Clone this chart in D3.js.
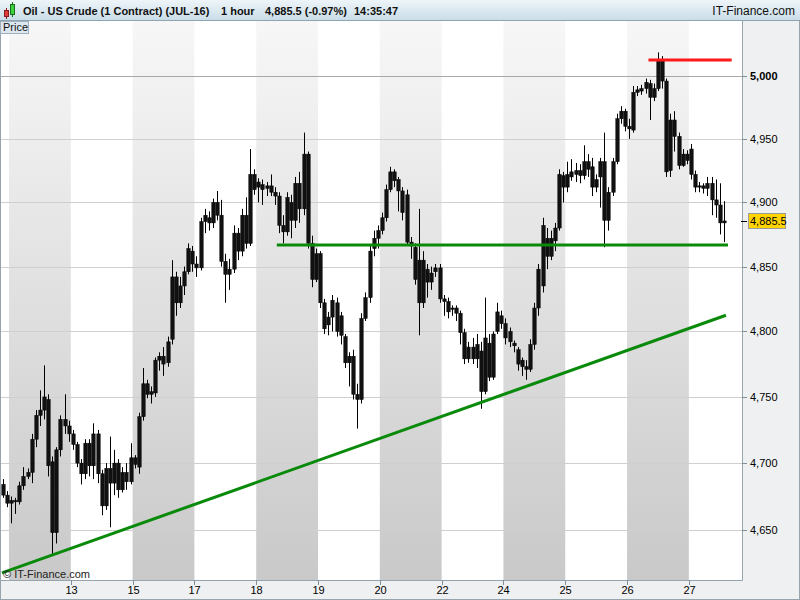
<!DOCTYPE html>
<html><head><meta charset="utf-8">
<script src="https://cdn.jsdelivr.net/npm/d3@7"></script>
<style>
body{margin:0;background:#fff;}
svg{display:block;font-family:"Liberation Sans",Arial,sans-serif;}
</style>
</head><body>
<svg id="chart" width="800" height="600"></svg>
<script>
// ---- DATA (hourly-ish candles) ----
const opens = [4684,4676,4670,4672,4671,4683,4690,4693,4718,4736,4740,4748,4701,4648,4710,4733,4728,4722,4714,4700,
4692,4715,4698,4722,4692,4668,4696,4685,4700,4680,4693,4686,4704,4697,4735,4760,4752,4753,4778,4781,
4776,4794,4842,4822,4835,4846,4862,4852,4849,4885,4888,4884,4900,4890,4854,4844,4848,4876,4862,4890,
4868,4922,4912,4914,4911,4913,4908,4905,4882,4877,4900,4886,4915,4895,4938,4868,4840,4860,4822,4805,
4811,4822,4812,4796,4776,4781,4752,4748,4810,4826,4864,4872,4878,4888,4910,4924,4918,4909,4906,4869,
4865,4855,4822,4848,4838,4846,4849,4825,4823,4817,4818,4814,4799,4779,4788,4779,4785,4754,4791,4765,
4800,4812,4806,4800,4791,4786,4778,4773,4771,4790,4818,4835,4872,4858,4870,4880,4921,4912,4920,4922,
4925,4921,4932,4928,4912,4920,4932,4886,4908,4932,4966,4972,4960,4957,4987,4988,4990,4994,4983,4990,
5013,4996,4925,4965,4952,4929,4938,4942,4922,4912,4913,4911,4915,4902,4898,4884];
const highs = [4688,4679,4675,4674,4686,4697,4696,4722,4740,4755,4774,4752,4705,4712,4736,4752,4732,4725,4716,4703,
4718,4718,4730,4725,4695,4700,4720,4710,4703,4697,4700,4715,4706,4738,4772,4763,4758,4780,4784,4788,
4796,4855,4846,4842,4850,4868,4866,4858,4888,4895,4893,4903,4909,4902,4860,4856,4882,4880,4895,4904,
4942,4926,4919,4918,4916,4922,4912,4908,4890,4908,4906,4920,4924,4955,4940,4874,4864,4862,4825,4815,
4828,4826,4815,4798,4784,4786,4760,4814,4830,4866,4878,4882,4892,4914,4928,4926,4920,4912,4910,4873,
4868,4895,4862,4852,4850,4852,4852,4828,4826,4820,4820,4816,4802,4792,4795,4798,4792,4826,4798,4800,
4822,4816,4810,4803,4793,4788,4780,4778,4794,4822,4852,4888,4880,4878,4884,4926,4924,4932,4934,4931,
4930,4945,4938,4935,4922,4935,4955,4912,4935,4970,4976,4974,4966,4992,4992,4993,4998,4997,4994,5019,
5016,4998,4970,4972,4955,4942,4941,4946,4925,4916,4915,4920,4920,4918,4915,4901];
const lows = [4674,4667,4655,4662,4669,4680,4688,4685,4712,4728,4733,4690,4632,4640,4705,4722,4716,4710,4697,4684,
4688,4690,4688,4685,4661,4665,4652,4676,4674,4678,4680,4684,4696,4692,4732,4749,4745,4750,4770,4766,
4773,4790,4812,4818,4828,4844,4846,4842,4847,4876,4878,4880,4886,4850,4822,4832,4845,4855,4858,4864,
4866,4906,4900,4898,4905,4905,4898,4876,4868,4874,4872,4880,4884,4890,4864,4834,4838,4818,4798,4797,
4800,4796,4790,4772,4758,4748,4726,4745,4808,4822,4858,4864,4875,4885,4908,4912,4893,4886,4866,4856,
4836,4797,4818,4826,4832,4842,4822,4812,4810,4812,4808,4790,4775,4776,4775,4772,4741,4752,4762,4763,
4798,4802,4790,4788,4784,4770,4766,4763,4769,4786,4812,4830,4848,4855,4862,4878,4900,4908,4917,4916,
4915,4918,4920,4905,4908,4896,4865,4878,4905,4930,4962,4956,4950,4955,4984,4985,4986,4965,4980,4988,
4990,4920,4920,4940,4926,4928,4930,4918,4908,4908,4907,4905,4890,4888,4875,4869];
const closes = [4676,4670,4672,4671,4683,4690,4693,4718,4736,4740,4750,4698,4648,4710,4733,4728,4722,4714,4700,4692,
4715,4698,4722,4692,4668,4696,4685,4700,4680,4693,4686,4704,4699,4735,4760,4752,4754,4778,4781,4775,
4792,4842,4822,4835,4846,4864,4852,4849,4885,4890,4884,4900,4890,4854,4844,4848,4876,4862,4890,4868,
4922,4910,4916,4910,4913,4908,4905,4882,4877,4904,4886,4915,4895,4938,4868,4840,4860,4822,4802,4811,
4824,4800,4797,4776,4781,4752,4748,4810,4826,4862,4872,4878,4888,4910,4924,4917,4909,4892,4869,4866,
4840,4822,4855,4838,4845,4849,4825,4823,4815,4818,4814,4799,4779,4788,4779,4790,4754,4795,4765,4798,
4815,4806,4795,4792,4789,4775,4773,4771,4790,4818,4848,4882,4858,4872,4880,4922,4912,4922,4924,4925,
4921,4932,4926,4912,4918,4932,4886,4908,4932,4966,4972,4960,4958,4987,4989,4990,4995,4983,4990,5013,
4996,4924,4965,4952,4929,4938,4933,4922,4912,4913,4911,4915,4902,4898,4884,4885.5];

const yTicks = [4650,4700,4750,4800,4850,4900,4950,5000];
const xTickLabels = ["13","15","17","18","19","20","22","24","25","26","27"];
const xTickIndex = [16.5,31.5,46.5,61.5,76.5,91.5,106.5,121.5,136.5,151.5,166.5];
const shadedDays = [[1.5,16.5],[31.5,46.5],[61.5,76.5],[91.5,106.5],[121.5,136.5],[151.5,166.5]];
// trend lines: [index, price] pairs
const risingTrend = [[-0.2,4618.2],[175.5,4812.4]];
const supportLine = [[66.5,4866.7],[176.0,4866.7]];
const resistanceLine = [[156.7,5012.8],[176.9,5012.8]];
const lastPrice = 4885.5;
const titleParts = [
  {t:"Oil - US Crude (1 Contract) (JUL-16)", x:23},
  {t:"1 hour", x:221},
  {t:"4,885.5 (-0.97%)", x:265},
  {t:"14:35:47", x:354}
];

// ---- LAYOUT ----
const svg = d3.select("#chart");
const L=1, R=742, T=20, B=580;
const x = d3.scaleLinear().domain([-0.68,179.4]).range([0,742]);
const y = d3.scaleLog().domain([4613.0,5045.0]).range([B,T]);
const fmt = d3.format(",");

const defs = svg.append("defs");
const g1 = defs.append("linearGradient").attr("id","band").attr("gradientUnits","userSpaceOnUse")
  .attr("x1",0).attr("y1",T).attr("x2",0).attr("y2",B);
g1.append("stop").attr("offset",0).attr("stop-color","#f7f7f7");
g1.append("stop").attr("offset",1).attr("stop-color","#c9c9c9");
const g2 = defs.append("linearGradient").attr("id","hdr").attr("x1",0).attr("y1",0).attr("x2",0).attr("y2",1);
g2.append("stop").attr("offset",0).attr("stop-color","#eef5f9");
g2.append("stop").attr("offset",1).attr("stop-color","#cadde8");
defs.append("clipPath").attr("id","plotclip").append("rect").attr("x",L).attr("y",T).attr("width",R-L).attr("height",B-T);

// background
svg.append("rect").attr("x",0).attr("y",0).attr("width",800).attr("height",600).attr("fill","#eff0f2");
svg.append("rect").attr("x",L).attr("y",T).attr("width",R-L).attr("height",B-T).attr("fill","#ffffff");

const plot = svg.append("g").attr("clip-path","url(#plotclip)");
plot.selectAll("rect.band").data(shadedDays).enter().append("rect")
  .attr("x",d=>x(d[0])).attr("y",T).attr("width",d=>x(d[1])-x(d[0])).attr("height",B-T)
  .attr("fill","url(#band)");

plot.selectAll("line.grid").data(yTicks).enter().append("line")
  .attr("x1",L).attr("x2",R).attr("y1",d=>Math.round(y(d))+0.5).attr("y2",d=>Math.round(y(d))+0.5)
  .attr("stroke",d=>d===5000?"#a9a9a9":"#cfcfcf").attr("stroke-width",1);

// candles
const idx = d3.range(closes.length);
const bw = 3.4;
plot.selectAll("line.wick").data(idx).enter().append("line")
  .attr("x1",i=>Math.round(x(i))+0.5).attr("x2",i=>Math.round(x(i))+0.5)
  .attr("y1",i=>y(highs[i])).attr("y2",i=>y(lows[i]))
  .attr("stroke","#000").attr("stroke-width",1);
plot.selectAll("rect.body").data(idx).enter().append("rect")
  .attr("x",i=>Math.round(x(i))+0.5-bw/2)
  .attr("y",i=>y(Math.max(opens[i],closes[i])))
  .attr("width",bw)
  .attr("height",i=>Math.max(1,Math.abs(y(opens[i])-y(closes[i]))))
  .attr("fill","#111").attr("stroke","#000").attr("stroke-width",0.5);

// trend lines
const lineGen = d3.line().x(d=>x(d[0])).y(d=>y(d[1]));
plot.append("path").attr("d",lineGen(risingTrend)).attr("stroke","#0a8a0a").attr("stroke-width",3).attr("fill","none");
plot.append("path").attr("d",lineGen(supportLine)).attr("stroke","#0a8a0a").attr("stroke-width",3).attr("fill","none");
plot.append("path").attr("d",lineGen(resistanceLine)).attr("stroke","#ff1a1a").attr("stroke-width",3).attr("fill","none");

// watermark
svg.append("text").attr("x",3).attr("y",578).attr("font-size",11).attr("fill","#222").text("© IT-Finance.com");

// axes frames
svg.append("line").attr("x1",R+0.5).attr("x2",R+0.5).attr("y1",T).attr("y2",B+0.5).attr("stroke","#96a4ad");
svg.append("line").attr("x1",0).attr("x2",R+0.5).attr("y1",B+0.5).attr("y2",B+0.5).attr("stroke","#96a4ad");
svg.append("rect").attr("x",0.5).attr("y",0.5).attr("width",799).attr("height",599).attr("fill","none").attr("stroke","#96a4ad");

// y axis
const ya = svg.append("g");
yTicks.forEach(v=>{
  const yy = Math.round(y(v))+0.5;
  ya.append("line").attr("x1",R).attr("x2",R+5).attr("y1",yy).attr("y2",yy).attr("stroke","#7f8e98");
  ya.append("text").attr("x",R+8).attr("y",yy).attr("dy","0.35em").attr("font-size",11)
    .attr("font-weight",v===5000?"bold":"normal").attr("fill","#000").text(fmt(v));
});
// x axis
const xa = svg.append("g");
xTickIndex.forEach((v,k)=>{
  const xx = Math.round(x(v))+0.5;
  xa.append("line").attr("x1",xx).attr("x2",xx).attr("y1",B).attr("y2",B+5).attr("stroke","#7f8e98");
  xa.append("text").attr("x",xx).attr("y",594).attr("text-anchor","middle").attr("font-size",11).attr("fill","#000").text(xTickLabels[k]);
});

// last price marker
const ly = y(lastPrice);
svg.append("line").attr("x1",R-1).attr("x2",R+5).attr("y1",Math.round(ly)+0.5).attr("y2",Math.round(ly)+0.5).attr("stroke","#000");
svg.append("rect").attr("x",748.5).attr("y",Math.round(ly)-7.5).attr("width",37).attr("height",15)
  .attr("fill","#ffd400").attr("stroke","#9a9a9a");
svg.append("text").attr("x",750).attr("y",ly).attr("dy","0.35em").attr("font-size",11).attr("fill","#000").text(fmt(lastPrice));

// header
svg.append("rect").attr("x",0).attr("y",0).attr("width",800).attr("height",20).attr("fill","url(#hdr)");
svg.append("line").attr("x1",0).attr("x2",800).attr("y1",20.5).attr("y2",20.5).attr("stroke","#8ea4b0");
// icon
svg.append("line").attr("x1",6.5).attr("x2",6.5).attr("y1",8).attr("y2",19).attr("stroke","#8b1a1a");
svg.append("rect").attr("x",4.5).attr("y",10.5).attr("width",4).attr("height",6).attr("fill","#e03a3a").attr("stroke","#8b1a1a");
svg.append("line").attr("x1",12.5).attr("x2",12.5).attr("y1",2).attr("y2",17).attr("stroke","#1a6b1a");
svg.append("rect").attr("x",10.5).attr("y",4.5).attr("width",4).attr("height",10).attr("fill","#3ed13e").attr("stroke","#1a6b1a");
titleParts.forEach(p=>{
  svg.append("text").attr("x",p.x).attr("y",15).attr("font-size",11).attr("font-weight","bold").attr("fill","#111").text(p.t);
});
svg.append("text").attr("x",795).attr("y",15).attr("text-anchor","end").attr("font-size",12).attr("fill","#111").text("IT-Finance.com");
// Price tag
svg.append("rect").attr("x",0.5).attr("y",21.5).attr("width",28).attr("height",12).attr("fill","#dce7ef").attr("stroke","#9fb0bc");
svg.append("text").attr("x",3).attr("y",31).attr("font-size",11).attr("fill","#111").text("Price");
</script>
</body></html>
